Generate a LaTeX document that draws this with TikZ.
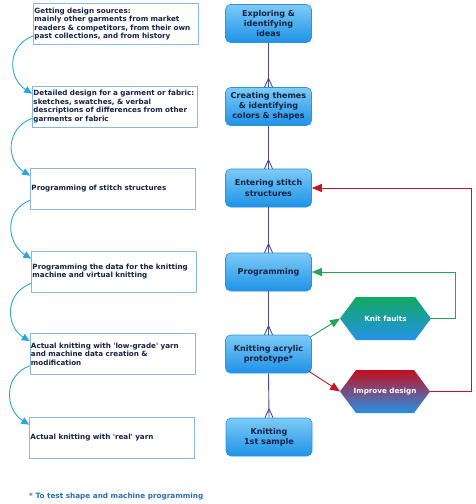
\documentclass[tikz,border=0pt]{standalone}
\usepackage{fontspec}
\setmainfont{DejaVu Sans}
\usetikzlibrary{arrows.meta}
\definecolor{boxtop}{RGB}{125,203,246}
\definecolor{boxbot}{RGB}{30,146,230}
\definecolor{boxline}{RGB}{45,145,222}
\definecolor{textdark}{RGB}{22,34,68}
\definecolor{crowcol}{RGB}{78,72,150}
\definecolor{noteline}{RGB}{140,182,226}
\definecolor{flowcol}{RGB}{40,166,226}
\definecolor{greencol}{RGB}{32,166,84}
\definecolor{redcol}{RGB}{200,20,32}
\definecolor{hexgreen}{RGB}{18,168,98}
\definecolor{hexred}{RGB}{196,14,30}
\definecolor{hexblue}{RGB}{36,146,232}
\definecolor{footblue}{RGB}{40,110,185}
\newcommand\crowfoot[1]{\draw[crow] ([yshift=9bp]#1) -- ([xshift=-4bp]#1) ([yshift=9bp]#1) -- ([xshift=4bp]#1);}
\begin{document}
\begin{tikzpicture}[x=1bp,y=-1bp,
  stage/.style={rectangle, rounded corners=5bp, draw=boxline, line width=0.6bp,
    top color=boxtop, bottom color=boxbot, minimum width=86bp, minimum height=38bp,
    inner sep=1bp, align=center, font=\fontsize{8.1}{10.3}\selectfont\bfseries, text=textdark},
  note/.style={rectangle, draw=noteline, line width=0.6bp, fill=white,
    minimum height=41bp, text width=163bp, inner xsep=1bp, inner ysep=0bp,
    align=left, font=\fontsize{7.2}{8.6}\selectfont\bfseries, text=textdark},
  hextext/.style={font=\fontsize{7.2}{9}\selectfont\bfseries, text=white},
  crow/.style={draw=crowcol, line width=0.9bp},
  flowarr/.style={draw=flowcol, line width=0.9bp, -{Triangle[length=8bp,width=7bp]}},
  garr/.style={draw=greencol, line width=0.9bp, -{Triangle[length=10bp,width=8bp]}},
  rarr/.style={draw=redcol, line width=0.9bp, -{Triangle[length=10bp,width=8bp]}}
]
\useasboundingbox (0,0) rectangle (476,504);

% right column stages
\node[stage] (r1) at (268.5,23.5) {Exploring \&\\identifying\\ideas};
\node[stage] (r2) at (268.5,106.5) {Creating themes\\\& identifying\\colors \& shapes};
\node[stage] (r3) at (268.5,188) {Entering stitch\\structures};
\node[stage] (r4) at (268.5,272) {Programming};
\node[stage] (r5) at (268.5,354) {Knitting acrylic\\prototype*};
\node[stage] (r6) at (269,437) {Knitting\\1st sample};

% crow's foot links
\foreach \a/\b in {r1/r2,r2/r3,r3/r4,r4/r5,r5/r6}{
  \draw[crow] (\a.south) -- (\b.north);
  \crowfoot{\b.north}
}

% left notes
\node[note] (A) at (116,24) {Getting design sources:\\mainly other garments from market\\readers \& competitors, from their own\\past collections, and from history};
\node[note] (B) at (115,106.5) {Detailed design for a garment or fabric:\\sketches, swatches, \& verbal\\descriptions of differences from other\\garments or fabric};
\node[note] (C) at (113,188.5) {Programming of stitch structures};
\node[note] (D) at (114,271.5) {Programming the data for the knitting\\machine and virtual knitting};
\node[note] (E) at (112.5,354) {Actual knitting with \textquotesingle low-grade\textquotesingle\ yarn\\and machine data creation \&\\modification};
\node[note] (F) at (112,437.5) {Actual knitting with \textquotesingle real\textquotesingle\ yarn};

% curved flow arrows
\foreach \a/\b in {A/B,B/C,C/D,D/E,E/F}{
  \draw[flowarr] ([yshift=9bp]\a.south west) .. controls +(-27,10) and +(-24,-15) .. ([yshift=-8bp]\b.north west);
}

% hexagons
\coordinate (kfw) at (340,318.5);
\coordinate (kfe) at (431,318.5);
\shade[top color=hexgreen, bottom color=hexblue] (kfw) -- (356,297) -- (415,297) -- (kfe) -- (415,340) -- (356,340) -- cycle;
\node[hextext] (kf) at (385.5,318.5) {Knit faults};

\coordinate (ipw) at (340,391.5);
\coordinate (ipe) at (430,391.5);
\shade[top color=hexred, bottom color=hexblue] (ipw) -- (356,370) -- (414,370) -- (ipe) -- (414,413) -- (356,413) -- cycle;
\node[hextext] (ip) at (385,391.5) {Improve design};

% feedback arrows
\draw[garr] ([xshift=-1bp,yshift=-2bp]r5.north east) -- (kfw);
\draw[rarr] ([xshift=-3bp,yshift=2bp]r5.south east) -- (ipw);
\draw[garr] (kfe) -- ++(24,0) |- (r4.east);
\draw[rarr] (ipe) -- ++(41,0) |- (r3.east);

% footnote
\node[anchor=west, inner sep=0, font=\fontsize{7.3}{8.6}\selectfont\bfseries, text=footblue] (foot) at (29,497) {* To test shape and machine programming};
\end{tikzpicture}
\end{document}
